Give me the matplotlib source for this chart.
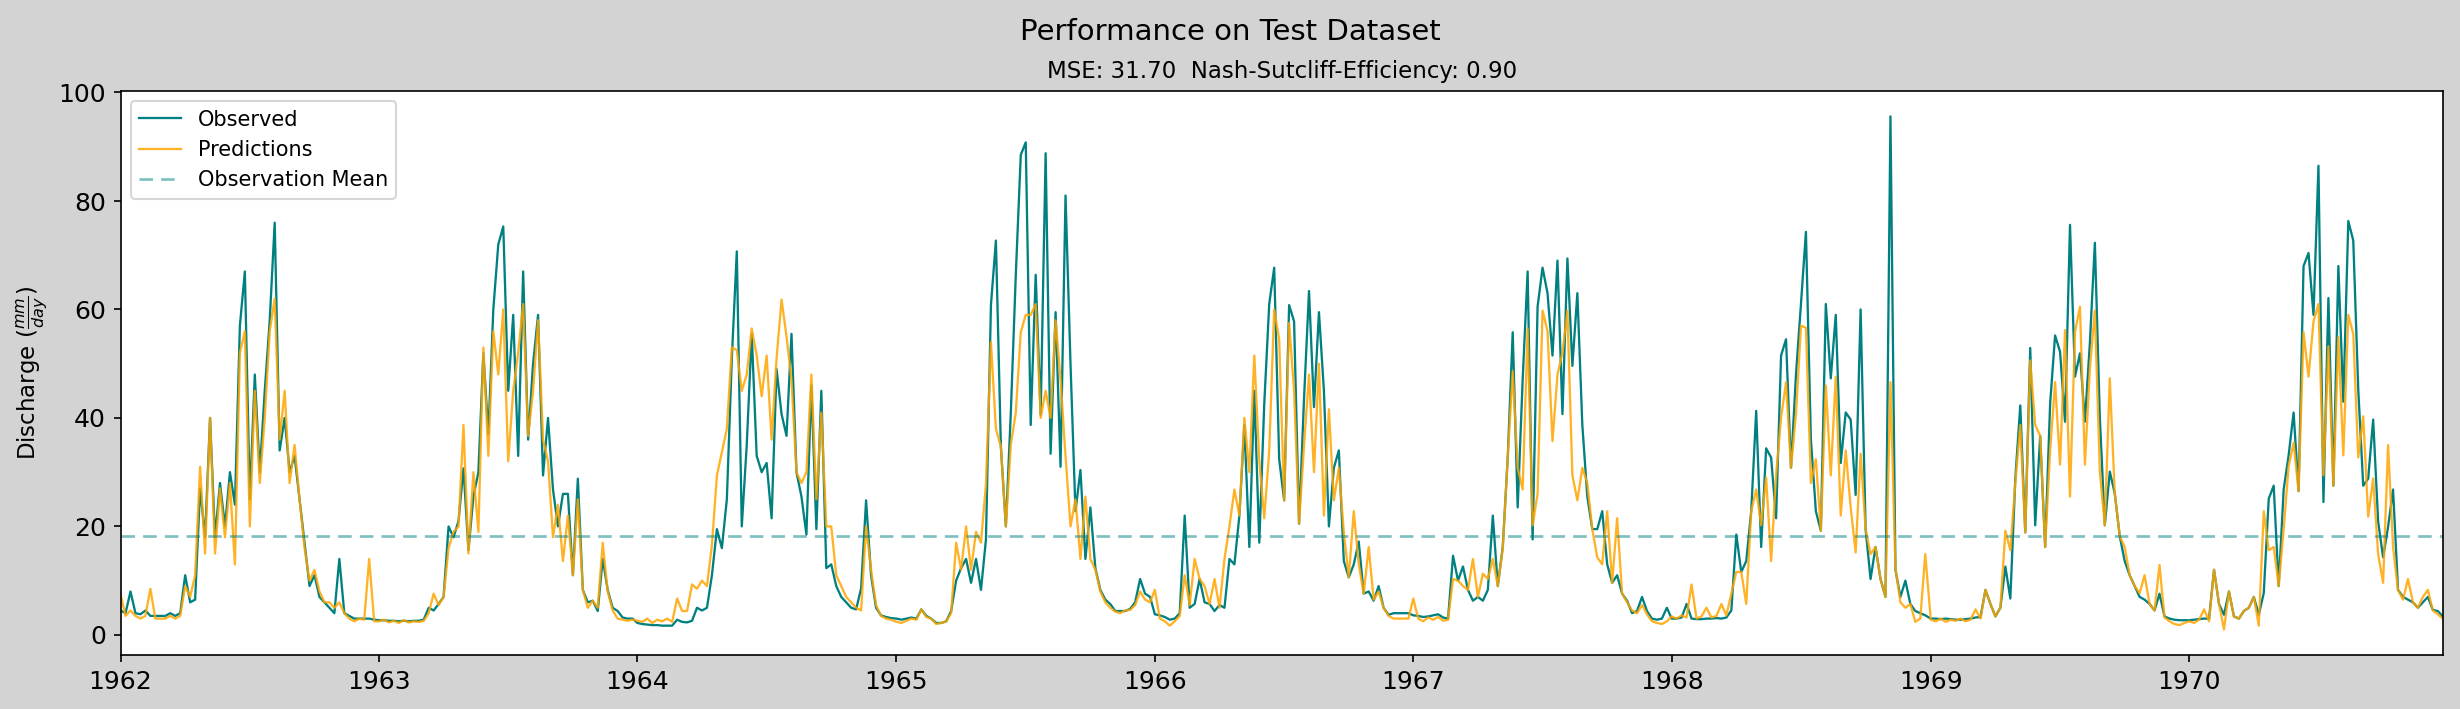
import numpy as np
import pandas as pd
import matplotlib
matplotlib.use('Agg')
import matplotlib.pyplot as plt

# weekly values, one list of 52 per year
years = [1962, 1963, 1964, 1965, 1966, 1967, 1968, 1969, 1970]

observed = {
    1962: [4.5, 4.0, 8.0, 4.0, 3.8, 4.5, 3.5, 3.5, 3.5, 3.5,
           4.0, 3.5, 4.0, 11, 6.0, 6.5, 27, 18, 40, 18,
           28, 20, 30, 24, 57, 67, 25, 48, 30, 45,
           58, 76, 34, 40, 30, 33, 25, 17, 9, 11,
           7, 6, 5, 4, 14, 4, 3.5, 3.0, 3.0, 3.0, 3.0, 2.8],
    1963: [2.7, 2.7, 2.6, 2.6, 2.5, 2.6, 2.5, 2.6, 2.6, 2.8,
           5.0, 4.5, 5.7, 7.0, 20, 18, 21, 30.7, 15.6, 25.5,
           30, 52, 37, 60, 72, 75.3, 45, 59, 33, 67,
           36, 50, 59, 29.4, 40, 26.8, 20, 26, 26, 11,
           28.8, 8.3, 6.0, 6.3, 4.4, 14, 8.3, 5.0, 4.4, 3.2, 3.0, 3.0],
    1964: [2.2, 2.0, 1.9, 1.8, 1.8, 1.7, 1.7, 1.7, 2.8, 2.4,
           2.3, 2.6, 5.0, 4.5, 5.0, 11, 19.5, 16, 25, 51,
           70.7, 20, 35, 55.5, 33, 30, 31.7, 21.5, 49, 40.7,
           36.7, 55.5, 30, 25.5, 18.5, 46, 19.5, 45, 12.3, 13,
           9, 7, 6, 5, 4.7, 8.6, 24.8, 11, 5, 3.6, 3.3, 3.1],
    1965: [3.0, 2.8, 3.0, 3.2, 3.0, 4.7, 3.5, 3.0, 2.2, 2.2,
           2.5, 4.4, 10, 12.3, 14, 9.6, 14, 8.3, 17.6, 60.8,
           72.7, 34.7, 20, 41, 66.4, 88.5, 90.8, 38.7, 66.4, 40.6,
           88.8, 33.4, 59.5, 31, 81, 50, 22.8, 30.4, 14, 23.5,
           12.3, 8.3, 6.5, 5.7, 4.4, 4.4, 4.4, 4.8, 6.0, 10.3, 7.6, 7.0],
    1966: [3.8, 3.6, 3.3, 2.8, 3.0, 4.0, 22, 5.0, 5.7, 10.3,
           6.0, 5.7, 4.4, 5.5, 5.0, 14, 13, 22, 38.7, 16.2,
           45, 17, 42.6, 61, 67.7, 32.4, 24.8, 60.8, 57.8, 20.5,
           43.6, 63.4, 42, 59.5, 45, 20, 30.8, 34, 13.6, 10.6,
           13, 17.2, 7.6, 8.0, 6.3, 9.0, 5.0, 3.7, 4.0, 4.0, 4.0, 4.0],
    1967: [3.6, 3.5, 3.3, 3.4, 3.6, 3.8, 3.2, 3.0, 14.6, 10,
           12.6, 8.3, 6.3, 7.0, 6.3, 8.3, 22, 9.0, 16.2, 32.7,
           55.8, 23.5, 47, 67, 17.6, 60.5, 67.7, 63, 51.5, 69,
           40.7, 69.4, 49.6, 63, 38.7, 25.5, 19.5, 19.5, 22.8, 13,
           9.6, 11, 7.6, 6.3, 4.0, 4.4, 7.0, 4.4, 3.0, 2.8, 3.0, 5.0],
    1968: [3.0, 3.0, 3.2, 5.7, 3.0, 2.9, 2.9, 3.0, 3.0, 3.1,
           3.0, 3.2, 4.5, 18.5, 11.6, 13.6, 22.8, 41.3, 16.2, 34.4,
           32.7, 21.5, 51.5, 54.5, 30.8, 48, 61, 74.3, 36, 22.8,
           19.2, 61, 47.3, 59, 31.7, 41, 39.7, 25.8, 60, 19.5,
           10.3, 16.2, 10.3, 7.0, 95.6, 12, 7.0, 10, 5.7, 4.4, 4.0, 3.6],
    1969: [3.0, 3.0, 2.9, 3.0, 2.9, 2.8, 2.8, 2.9, 3.0, 3.2,
           3.3, 8.3, 5.7, 3.4, 5.0, 12.6, 6.7, 28.8, 42.3, 18.9,
           52.9, 20.2, 36.7, 16.2, 42.6, 55.2, 52.2, 39.3, 75.6, 47.6,
           51.9, 39.3, 53.9, 72.3, 40, 20.2, 30.1, 26.1, 18.2, 13.6,
           11, 9.0, 7.0, 6.5, 5.7, 4.5, 7.6, 3.4, 3.0, 2.8, 2.7, 2.7],
    1970: [2.7, 2.8, 2.9, 3.0, 3.0, 12, 5.7, 3.7, 8.0, 3.4,
           3.0, 4.4, 5.0, 7.0, 3.7, 7.7, 25.1, 27.5, 9.0, 26.8,
           33.1, 41, 26.5, 68, 70.4, 59, 86.5, 24.5, 62.1, 27.5,
           68, 43, 76.3, 72.7, 45.3, 27.5, 28.8, 39.7, 20.9, 14.3,
           19.9, 26.8, 8.3, 7.0, 6.5, 6.0, 5.0, 6.0, 7.0, 4.6, 4.4, 3.4],
}

predicted = {
    1962: [7.5, 3.5, 4.5, 3.5, 3.0, 3.5, 8.5, 3.0, 3.0, 3.0,
           3.5, 3.0, 3.5, 9, 7, 11, 31, 15, 40, 15,
           27, 18, 28, 13, 52, 56, 20, 45, 28, 40,
           56, 62, 36, 45, 28, 35, 25, 16, 10, 12,
           8, 6, 6, 5, 6, 4, 3, 2.5, 3.0, 2.8, 14, 2.5],
    1963: [2.5, 2.8, 2.3, 2.6, 2.2, 2.7, 2.3, 2.5, 2.4, 2.6,
           4.0, 7.6, 5.5, 7.0, 16, 19, 20, 38.7, 15, 30,
           19, 53, 33, 56, 48, 60, 32, 45, 52, 61,
           36.7, 45, 58, 36, 32, 18, 24, 13.6, 22, 11,
           25, 8.3, 5.0, 6.3, 5.0, 17, 8.0, 4.5, 3.0, 2.8, 2.6, 2.8],
    1964: [2.6, 2.4, 3.0, 2.2, 2.8, 2.5, 3.0, 2.4, 6.7, 4.4,
           4.4, 9.3, 8.5, 10, 9, 16.6, 29.4, 33.7, 38, 53,
           52.5, 45, 48, 56.5, 51.5, 44, 51.5, 36, 51, 61.8,
           55, 47, 30, 28, 30, 48, 25, 41, 20, 20,
           11, 9, 7, 6, 5, 4.5, 20, 12, 5.5, 3.5, 3.0, 2.8],
    1965: [2.4, 2.2, 2.6, 3.0, 2.8, 4.7, 3.3, 3.0, 2.0, 2.2,
           2.5, 4.0, 17, 12, 20, 12, 19, 17, 27.8, 54,
           38, 34.7, 20, 35, 41, 55.8, 59, 59, 61, 40,
           45, 40, 58, 47, 33, 20, 25, 14, 25.5, 14,
           12, 8, 6, 5, 4.3, 4.0, 4.5, 4.6, 5.5, 8.0, 6.5, 6.0],
    1966: [8.3, 3.0, 2.5, 1.7, 2.5, 3.5, 11, 5.5, 14, 10.3,
           9, 5.7, 10.3, 5.0, 14, 20, 26.8, 22, 40, 30,
           51.5, 32, 21.5, 34, 60, 54.5, 24.8, 57.5, 45, 20.5,
           35, 48, 30, 50, 22, 41.6, 24.8, 30.8, 18.9, 10.6,
           22.8, 13, 7.6, 16.2, 6.5, 8.0, 5.0, 3.5, 3.0, 3.0, 3.0, 3.0],
    1967: [6.7, 3.0, 2.5, 3.2, 2.8, 3.3, 2.6, 2.8, 10.3, 10,
           9, 8.3, 14, 7, 11.3, 10.3, 14, 9, 16, 32.7,
           48.6, 30.8, 26.8, 56.5, 20.2, 26, 59.8, 56, 35.7, 48,
           52, 59.8, 29.4, 24.8, 30.8, 28, 19.5, 14.3, 13, 22.8,
           9.6, 21.5, 7.6, 6.0, 4.5, 4.0, 5.5, 3.8, 2.5, 2.2, 2.0, 2.5],
    1968: [3.4, 3.0, 3.6, 3.2, 9.3, 3.0, 3.4, 5.0, 3.2, 3.5,
           5.7, 3.6, 7.6, 11.6, 11.6, 5.7, 22.8, 26.8, 20.2, 29,
           13.6, 29.4, 40, 46.6, 30.8, 40.7, 57, 56.6, 28, 32.4,
           19.2, 46, 29.4, 47.6, 22, 34, 23.5, 15.2, 33.4, 19.5,
           14.9, 16.2, 10.3, 7.0, 46.6, 12.3, 6.0, 5.0, 5.7, 2.4, 3.0, 14.9],
    1969: [2.8, 2.5, 3.0, 2.4, 2.8, 2.6, 3.0, 2.5, 2.8, 4.7,
           3.0, 8.3, 5.7, 3.4, 5.0, 19.2, 15.6, 28, 38.7, 18.9,
           50.6, 38.7, 36.7, 16.2, 34, 46.6, 31.4, 56.2, 25.5, 55.8,
           60.5, 31.4, 49.2, 59.8, 30, 20.2, 47.3, 26.1, 18.2, 16.2,
           11, 9.0, 7.7, 11, 5.7, 4.5, 12.9, 3.2, 2.5, 2.0, 1.8, 2.2],
    1970: [2.5, 2.2, 2.8, 4.7, 2.5, 12, 5.7, 1.0, 8.0, 3.4,
           3.0, 4.4, 5.0, 7.0, 1.7, 22.8, 15.6, 16.2, 9.0, 19.5,
           31.1, 35.4, 26.5, 55.8, 47.6, 57.8, 61, 29.4, 53.2, 27.5,
           54.9, 33.1, 59, 55.5, 32.7, 40.3, 21.8, 28.8, 14.9, 9.6,
           35, 16.2, 8.3, 6.5, 10.3, 6.0, 5.0, 7.0, 8.3, 4.5, 3.8, 3.0],
}

obs_mean = 18.3
mse_text = "MSE: 31.70  Nash-Sutcliff-Efficiency: 0.90"


def build_series(values_by_year):
    dates = []
    vals = []
    for y in years:
        v = values_by_year[y]
        start = pd.Timestamp(f"{y}-01-01")
        dates.extend(start + pd.to_timedelta(np.arange(len(v)) * 365.25 / 52, unit="D"))
        vals.extend(v)
    return pd.Series(vals, index=pd.DatetimeIndex(dates))


def main():
    obs = build_series(observed)
    pred = build_series(predicted)

    fig, ax = plt.subplots(figsize=(16.4, 4.727), dpi=150)
    fig.patch.set_facecolor("lightgrey")
    fig.subplots_adjust(left=0.049, right=0.993, top=0.872, bottom=0.076)

    ax.plot(obs.index, obs.values, color="teal", lw=1.1, label="Observed")
    ax.plot(pred.index, pred.values, color="orange", lw=1.1, alpha=0.85,
            label="Predictions")
    ax.axhline(obs_mean, color="teal", ls="--", lw=1.3, alpha=0.5,
               dashes=(5, 3), label="Observation Mean")

    ax.set_xlim(obs.index[0], obs.index[-1])
    ax.set_ylabel("Discharge ($\\frac{mm}{day}$)", fontsize=11)
    ax.tick_params(labelsize=12)
    ax.set_title(mse_text, fontsize=11)
    fig.suptitle("Performance on Test Dataset", fontsize=14, y=0.975)
    ax.legend(loc="upper left", fontsize=10)

    fig.savefig("out.png", dpi=150, facecolor=fig.get_facecolor())


if __name__ == "__main__":
    main()
